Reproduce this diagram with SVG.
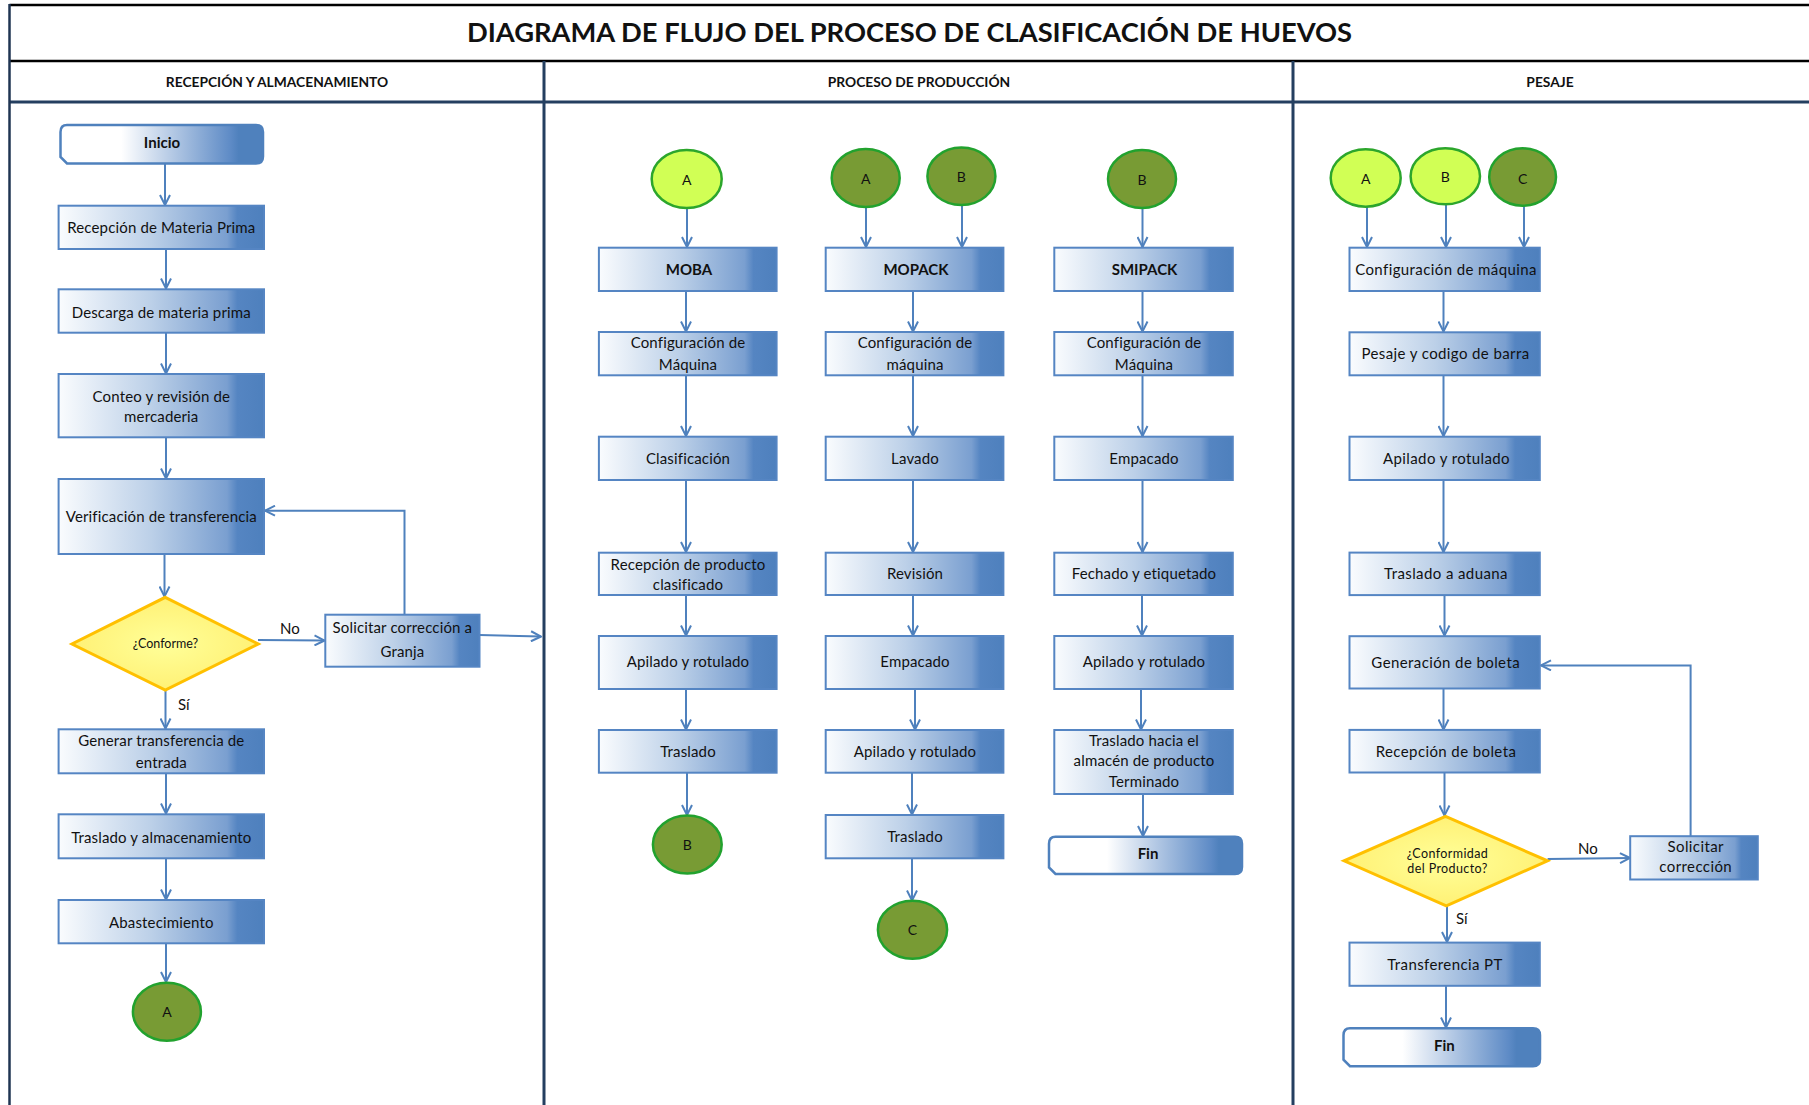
<svg xmlns="http://www.w3.org/2000/svg" width="1809" height="1105" viewBox="0 0 1809 1105">
<style>
.bx{fill:url(#gp);stroke:#5585C3;stroke-width:2}
.tm{fill:url(#gt);stroke:#4F81BD;stroke-width:2.5}
.dm{fill:url(#gd);stroke:#FFC000;stroke-width:3}
.cd{fill:#789B34;stroke:#22A22E;stroke-width:2.5}
.cl{fill:#D1FF55;stroke:#2CA62C;stroke-width:2.5}
.cn{fill:none;stroke:#4F81BD;stroke-width:2;marker-end:url(#ah)}
text{font-family:Lato,"Liberation Sans",sans-serif;fill:#111;text-anchor:middle}
.t{font-size:15px;letter-spacing:0.15px}
.tr{font-size:15px;letter-spacing:0.4px}
.tb{font-size:15px;font-weight:bold}
.ts{font-size:12.5px}
.tsr{font-size:12.5px;letter-spacing:0.4px}
.hdr{font-size:13.8px;font-weight:bold}
.ttl{font-size:27.3px;font-weight:bold}
.lb{font-size:15px;text-anchor:start}
.cc{font-size:14px}
</style>
<defs>
<linearGradient id="gp" x1="0" y1="0" x2="1" y2="0">
<stop offset="0" stop-color="#FAFCFE"/>
<stop offset="0.45" stop-color="#BCD0E8"/>
<stop offset="0.82" stop-color="#7A9FD0"/>
<stop offset="0.87" stop-color="#5585C2"/>
<stop offset="1" stop-color="#4E80BD"/>
</linearGradient>
<linearGradient id="gt" x1="0" y1="0" x2="1" y2="0">
<stop offset="0" stop-color="#FFFFFF"/>
<stop offset="0.3" stop-color="#FFFFFF"/>
<stop offset="0.84" stop-color="#5E8BC6"/>
<stop offset="0.88" stop-color="#4F81BD"/>
<stop offset="1" stop-color="#4F81BD"/>
</linearGradient>
<radialGradient id="gd" cx="0.5" cy="0.5" r="0.6">
<stop offset="0" stop-color="#FFFF99"/>
<stop offset="1" stop-color="#FFEE6E"/>
</radialGradient>
<marker id="ah" viewBox="0 0 12 12" refX="11" refY="6" markerWidth="12" markerHeight="12" markerUnits="userSpaceOnUse" orient="auto">
<path d="M1,1 L11,6 L1,11" fill="none" stroke="#4F81BD" stroke-width="2"/>
</marker>
</defs>

<g id="frame">
<rect x="0" y="0" width="1809" height="1105" fill="#FFFFFF"/>
<line x1="9.5" y1="5" x2="1809" y2="5" stroke="#000" stroke-width="2.5"/>
<line x1="9.5" y1="61" x2="1809" y2="61" stroke="#000" stroke-width="2.5"/>
<line x1="9.5" y1="102" x2="1809" y2="102" stroke="#243F60" stroke-width="3"/>
<line x1="9.5" y1="4" x2="9.5" y2="1105" stroke="#1F3552" stroke-width="2.5"/>
<line x1="544" y1="61" x2="544" y2="1105" stroke="#243F60" stroke-width="3"/>
<line x1="1293" y1="61" x2="1293" y2="1105" stroke="#243F60" stroke-width="3"/>
<text class="ttl" x="909.5" y="42">DIAGRAMA DE FLUJO DEL PROCESO DE CLASIFICACIÓN DE HUEVOS</text>
<text class="hdr" x="277" y="87">RECEPCIÓN Y ALMACENAMIENTO</text>
<text class="hdr" x="919" y="87">PROCESO DE PRODUCCIÓN</text>
<text class="hdr" x="1550" y="87">PESAJE</text>
</g>

<g id="connectors">
<!-- left column -->
<path class="cn" d="M165,163.5 V205"/>
<path class="cn" d="M166,249 V288.5"/>
<path class="cn" d="M166,333 V373.5"/>
<path class="cn" d="M166,437.5 V478.5"/>
<path class="cn" d="M164.5,554 V596.5"/>
<path class="cn" d="M258,640 L324.5,640.5"/>
<path class="cn" d="M404.5,614.5 V510.7 H265"/>
<path class="cn" d="M479.5,635 L541,636.5"/>
<path class="cn" d="M165.5,690 V728.5"/>
<path class="cn" d="M166,773.5 V813.5"/>
<path class="cn" d="M166,858.5 V899.5"/>
<path class="cn" d="M166,943.5 V982"/>
<!-- MOBA column -->
<path class="cn" d="M687,208 V247"/>
<path class="cn" d="M686,291 V331.5"/>
<path class="cn" d="M686,375.5 V436"/>
<path class="cn" d="M686,480 V552"/>
<path class="cn" d="M686,595 V635.5"/>
<path class="cn" d="M686,689 V729.5"/>
<path class="cn" d="M687,772.5 V815"/>
<!-- MOPACK column -->
<path class="cn" d="M866,207 V247"/>
<path class="cn" d="M962,205 V247"/>
<path class="cn" d="M913,291 V331.5"/>
<path class="cn" d="M913,375.5 V436"/>
<path class="cn" d="M913,480 V552"/>
<path class="cn" d="M913,595 V635.5"/>
<path class="cn" d="M915,689 V729.5"/>
<path class="cn" d="M912,772.5 V814.5"/>
<path class="cn" d="M912,858.5 V900.5"/>
<!-- SMIPACK column -->
<path class="cn" d="M1142.5,208 V247"/>
<path class="cn" d="M1142.5,291 V331.5"/>
<path class="cn" d="M1142.5,375.5 V436"/>
<path class="cn" d="M1142.5,480 V552"/>
<path class="cn" d="M1142,595 V635.5"/>
<path class="cn" d="M1141,689 V729.5"/>
<path class="cn" d="M1143,794 V836"/>
<!-- PESAJE column -->
<path class="cn" d="M1367,206.5 V247"/>
<path class="cn" d="M1446,204.5 V247"/>
<path class="cn" d="M1524,206 V247"/>
<path class="cn" d="M1443.5,291 V331.5"/>
<path class="cn" d="M1443.5,375.5 V436"/>
<path class="cn" d="M1443.5,480 V552"/>
<path class="cn" d="M1444.5,595 V635.5"/>
<path class="cn" d="M1443.5,688.5 V729.5"/>
<path class="cn" d="M1444.5,772.5 V815.5"/>
<path class="cn" d="M1547.6,859 L1630,858"/>
<path class="cn" d="M1690.6,836 V665.4 H1541"/>
<path class="cn" d="M1447,905.8 V942"/>
<path class="cn" d="M1446,985.8 V1027.5"/>
</g>

<g id="lbl-no-1"><text class="lb" x="280" y="634">No</text></g>
<g id="lbl-si-1"><text class="lb" x="178" y="710">Sí</text></g>
<g id="lbl-no-2"><text class="lb" x="1578" y="853.5">No</text></g>
<g id="lbl-si-2"><text class="lb" x="1456" y="923.8">Sí</text></g>

<!-- LEFT COLUMN -->
<g id="inicio">
<path class="tm" d="M67,125 H256 Q263,125 263,132 V156.5 Q263,163.5 256,163.5 H67 L60.5,157 V132 Q60.5,125 67,125 Z"/>
<text class="tb" x="162" y="147.5">Inicio</text>
</g>
<g id="recepcion-mp"><rect class="bx" x="58.6" y="205.7" width="205.4" height="43.3"/><text class="t" x="161.3" y="233.3">Recepción de Materia Prima</text></g>
<g id="descarga"><rect class="bx" x="58.6" y="289.3" width="205.4" height="43.4"/><text class="t" x="161.3" y="318.3">Descarga de materia prima</text></g>
<g id="conteo"><rect class="bx" x="58.6" y="374" width="205.4" height="63.3"/><text class="t" x="161.3" y="401.7">Conteo y revisión de</text><text class="t" x="161.3" y="421.7">mercaderia</text></g>
<g id="verificacion"><rect class="bx" x="58.6" y="479" width="205.4" height="75"/><text class="t" x="161.3" y="521.7">Verificación de transferencia</text></g>
<g id="conforme"><path class="dm" d="M165.3,597.3 L258.3,644 L165.3,690 L72,644 Z"/><text class="ts" x="165.5" y="647.7">¿Conforme?</text></g>
<g id="solicitar-granja"><rect class="bx" x="325.3" y="614.7" width="154.2" height="52"/><text class="t" x="402.4" y="633.3">Solicitar corrección a</text><text class="t" x="402.4" y="656.7">Granja</text></g>
<g id="generar"><rect class="bx" x="58.6" y="729.3" width="205.4" height="44"/><text class="t" x="161.3" y="745.7">Generar transferencia de</text><text class="t" x="161.3" y="767.7">entrada</text></g>
<g id="traslado-alm"><rect class="bx" x="58.6" y="814.3" width="205.4" height="44"/><text class="t" x="161.3" y="842.7">Traslado y almacenamiento</text></g>
<g id="abastecimiento"><rect class="bx" x="58.6" y="900" width="205.4" height="43.3"/><text class="t" x="161.3" y="927.7">Abastecimiento</text></g>
<g id="conn-a-out"><ellipse class="cd" cx="166.9" cy="1011.7" rx="34" ry="29"/><text class="cc" x="166.9" y="1017">A</text></g>

<!-- MOBA COLUMN -->
<g id="moba-a"><ellipse class="cl" cx="686.7" cy="179" rx="35" ry="29"/><text class="cc" x="686.7" y="184.5">A</text></g>
<g id="moba"><rect class="bx" x="598.9" y="247.7" width="177.7" height="43.3"/><text class="tb" x="689" y="275">MOBA</text></g>
<g id="moba-config"><rect class="bx" x="598.9" y="332" width="177.7" height="43.3"/><text class="t" x="688" y="348.3">Configuración de</text><text class="t" x="688" y="370">Máquina</text></g>
<g id="moba-clasif"><rect class="bx" x="598.9" y="436.7" width="177.7" height="43.3"/><text class="t" x="688" y="464">Clasificación</text></g>
<g id="moba-recep"><rect class="bx" x="598.9" y="552.7" width="177.7" height="42.3"/><text class="t" x="688" y="570">Recepción de producto</text><text class="t" x="688" y="590">clasificado</text></g>
<g id="moba-apilado"><rect class="bx" x="598.9" y="636" width="177.7" height="53"/><text class="t" x="688" y="666.7">Apilado y rotulado</text></g>
<g id="moba-traslado"><rect class="bx" x="598.9" y="730" width="177.7" height="42.7"/><text class="t" x="688" y="756.7">Traslado</text></g>
<g id="moba-b"><ellipse class="cd" cx="687.3" cy="844.5" rx="34.4" ry="29"/><text class="cc" x="687.3" y="850">B</text></g>

<!-- MOPACK COLUMN -->
<g id="mopack-a"><ellipse class="cd" cx="865.7" cy="178" rx="34" ry="29"/><text class="cc" x="865.7" y="183.5">A</text></g>
<g id="mopack-b"><ellipse class="cd" cx="961.4" cy="176.3" rx="34" ry="28.7"/><text class="cc" x="961.4" y="181.5">B</text></g>
<g id="mopack"><rect class="bx" x="825.7" y="247.7" width="177.7" height="43.3"/><text class="tb" x="916" y="275">MOPACK</text></g>
<g id="mopack-config"><rect class="bx" x="825.7" y="332" width="177.7" height="43.3"/><text class="t" x="915" y="348.3">Configuración de</text><text class="t" x="915" y="370">máquina</text></g>
<g id="mopack-lavado"><rect class="bx" x="825.7" y="436.7" width="177.7" height="43.3"/><text class="t" x="915" y="464">Lavado</text></g>
<g id="mopack-revision"><rect class="bx" x="825.7" y="552.7" width="177.7" height="42.3"/><text class="t" x="915" y="579">Revisión</text></g>
<g id="mopack-empacado"><rect class="bx" x="825.7" y="636" width="177.7" height="53"/><text class="t" x="915" y="666.7">Empacado</text></g>
<g id="mopack-apilado"><rect class="bx" x="825.7" y="730" width="177.7" height="42.7"/><text class="t" x="915" y="756.7">Apilado y rotulado</text></g>
<g id="mopack-traslado"><rect class="bx" x="825.7" y="815" width="177.7" height="43.3"/><text class="t" x="915" y="841.7">Traslado</text></g>
<g id="mopack-c"><ellipse class="cd" cx="912.5" cy="929.7" rx="34.6" ry="29"/><text class="cc" x="912.5" y="935">C</text></g>

<!-- SMIPACK COLUMN -->
<g id="smipack-b"><ellipse class="cd" cx="1142" cy="179" rx="34" ry="29"/><text class="cc" x="1142" y="184.5">B</text></g>
<g id="smipack"><rect class="bx" x="1054.3" y="247.7" width="178.5" height="43.3"/><text class="tb" x="1144.5" y="275">SMIPACK</text></g>
<g id="smipack-config"><rect class="bx" x="1054.3" y="332" width="178.5" height="43.3"/><text class="t" x="1144" y="348.3">Configuración de</text><text class="t" x="1144" y="370">Máquina</text></g>
<g id="smipack-empacado"><rect class="bx" x="1054.3" y="436.7" width="178.5" height="43.3"/><text class="t" x="1144" y="464">Empacado</text></g>
<g id="smipack-fechado"><rect class="bx" x="1054.3" y="552.7" width="178.5" height="42.3"/><text class="t" x="1144" y="579">Fechado y etiquetado</text></g>
<g id="smipack-apilado"><rect class="bx" x="1054.3" y="636" width="178.5" height="53"/><text class="t" x="1144" y="666.7">Apilado y rotulado</text></g>
<g id="smipack-traslado"><rect class="bx" x="1054.3" y="730" width="178.5" height="64"/><text class="t" x="1144" y="745.5">Traslado hacia el</text><text class="t" x="1144" y="766">almacén de producto</text><text class="t" x="1144" y="787.3">Terminado</text></g>
<g id="smipack-fin">
<path class="tm" d="M1055.5,836.7 H1235 Q1242,836.7 1242,843.7 V867 Q1242,874 1235,874 H1055.5 L1049,867.5 V843.7 Q1049,836.7 1055.5,836.7 Z"/>
<text class="tb" x="1148" y="859">Fin</text>
</g>

<!-- PESAJE COLUMN -->
<g id="pesaje-a"><ellipse class="cl" cx="1365.7" cy="178" rx="35" ry="28.7"/><text class="cc" x="1365.7" y="183.5">A</text></g>
<g id="pesaje-b"><ellipse class="cl" cx="1445.3" cy="176.3" rx="34.7" ry="28"/><text class="cc" x="1445.3" y="181.5">B</text></g>
<g id="pesaje-c"><ellipse class="cd" cx="1522.6" cy="177" rx="33.4" ry="28.7"/><text class="cc" x="1522.6" y="183.5">C</text></g>
<g id="pesaje-config"><rect class="bx" x="1349.5" y="247.7" width="190.3" height="43.3"/><text class="tr" x="1446" y="275">Configuración de máquina</text></g>
<g id="pesaje-codigo"><rect class="bx" x="1349.5" y="332.3" width="190.3" height="43"/><text class="tr" x="1445.5" y="359.3">Pesaje y codigo de barra</text></g>
<g id="pesaje-apilado"><rect class="bx" x="1349.5" y="436.7" width="190.3" height="43.3"/><text class="tr" x="1446.5" y="464">Apilado y rotulado</text></g>
<g id="pesaje-aduana"><rect class="bx" x="1349.5" y="552.6" width="190.3" height="42.5"/><text class="tr" x="1446" y="578.9">Traslado a aduana</text></g>
<g id="pesaje-boleta"><rect class="bx" x="1349.5" y="636.2" width="190.3" height="52.3"/><text class="tr" x="1445.7" y="668">Generación de boleta</text></g>
<g id="pesaje-recep-boleta"><rect class="bx" x="1349.5" y="729.9" width="190.3" height="42.6"/><text class="tr" x="1446" y="757">Recepción de boleta</text></g>
<g id="pesaje-conformidad"><path class="dm" d="M1445.5,816.4 L1547.6,860.8 L1446.3,905.8 L1344.1,860.8 Z"/><text class="tsr" x="1447.5" y="858.3">¿Conformidad</text><text class="tsr" x="1447.5" y="872.7">del Producto?</text></g>
<g id="pesaje-solicitar"><rect class="bx" x="1630.2" y="836.2" width="127.6" height="43.3"/><text class="tr" x="1695.7" y="851.7">Solicitar</text><text class="tr" x="1695.7" y="872.3">corrección</text></g>
<g id="pesaje-transferencia"><rect class="bx" x="1349.5" y="942.6" width="190.3" height="43.2"/><text class="tr" x="1445" y="970">Transferencia PT</text></g>
<g id="pesaje-fin">
<path class="tm" d="M1350,1028.3 H1533 Q1540,1028.3 1540,1035.3 V1059.2 Q1540,1066.2 1533,1066.2 H1350 L1343.5,1059.7 V1035.3 Q1343.5,1028.3 1350,1028.3 Z"/>
<text class="tb" x="1444.3" y="1051">Fin</text>
</g>
</svg>
